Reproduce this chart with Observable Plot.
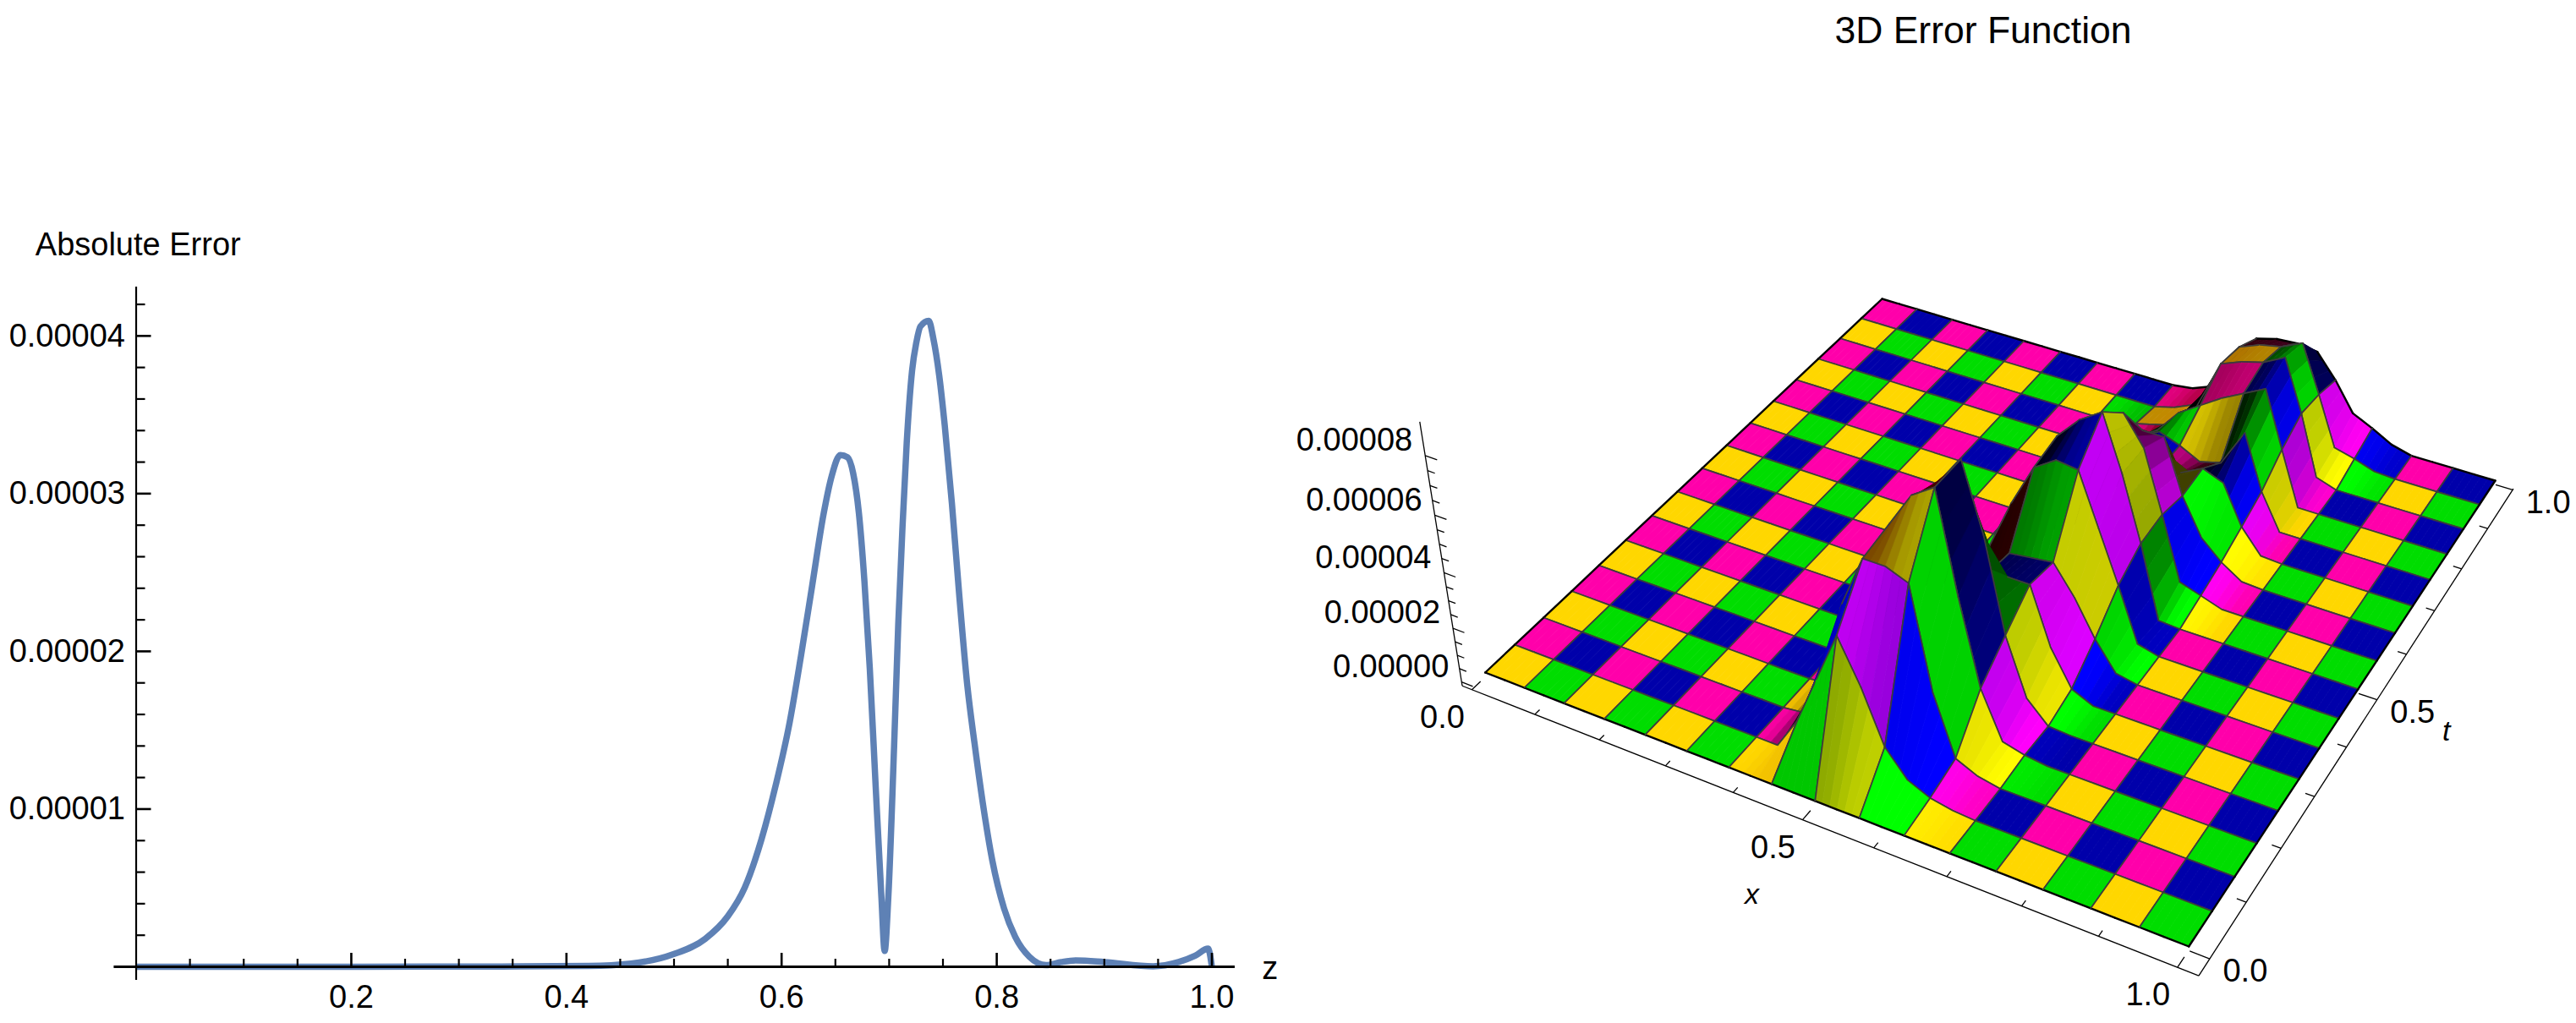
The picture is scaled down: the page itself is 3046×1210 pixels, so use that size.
<!DOCTYPE html>
<html>
<head>
<meta charset="utf-8">
<title>3D Error Function</title>
<script src="https://cdn.jsdelivr.net/npm/d3@7"></script>
<script src="https://cdn.jsdelivr.net/npm/@observablehq/plot@0.6"></script>
<style>
  html, body { margin: 0; padding: 0; background: #fff; overflow: hidden; }
  #page { position: relative; width: 3046px; height: 1210px; font-family: "Liberation Sans", Arial, sans-serif; }
  #title { position: absolute; left: 2345px; top: 11px; transform: translateX(-50%); font-size: 44.5px; white-space: nowrap; color: #000; }
  #left, #right { position: absolute; top: 0; }
  #left { left: 0; }
  #right { left: 1520px; }
</style>
</head>
<body>
<div id="page">
  <div id="left"></div>
  <div id="right"></div>
  <div id="title">3D Error Function</div>
</div>
<script>
// left chart, error in units of 1e-5
const zValues = [0,.2,.34,.421,.46,.4996,.529,.55,.5656,.5814,.5945,.6075,.618,.6285,.639,.6467,.6546,.6613,.6665,.6718,.677,.682,.6875,.6928,.6958,.6992,.7046,.7085,.7124,.7163,.7213,.7253,.729,.7368,.741,.7465,.7517,.7583,.7648,.7727,.7793,.787,.796,.8068,.8172,.8303,.846,.86,.8735,.9,.9454,.969,.9845,.9964,1];
const errorValues = [0,0,.002,.005,.02,.08,.177,.32,.5,.81,1.15,1.55,1.97,2.42,2.87,3.115,3.245,3.23,3.13,2.88,2.445,1.89,1.137,.44,.1,.44,1.4,2.18,2.79,3.32,3.78,3.96,4.06,4.096,3.986,3.75,3.43,2.94,2.386,1.78,1.42,1.04,.67,.37,.19,.064,.011,.03,.04,.03,.003,.03,.07,.115,0];
const xMajor = [.2,.4,.6,.8,1];
const xMinor = [.05,.1,.15,.25,.3,.35,.45,.5,.55,.65,.7,.75,.85,.9,.95];
const yMajor = [1,2,3,4];
const yMinor = [.2,.4,.6,.8,1.2,1.4,1.6,1.8,2.2,2.4,2.6,2.8,3.2,3.4,3.6,3.8,4.2];

// surface heights in units of 1e-5: rows are t steps (0..16), columns are half x steps starting at x index 6
const firstColumn = 12;
const surfaceRows = [
  [],
  [0,0,1.2,3,4.8,3.3,1.45,.55,.2,.05],
  [0,.1,2,4.6,6.4,6.4,6.1,2.6,.5,.15],
  [0,.1,2.5,5,6.6,7.8,8.3,4.9,1.95,.3,.1],
  [0,.1,2.8,4.6,5.5,7.2,8.3,6,2.8,.8,.05],
  [0,0,2,3,3.3,3.5,3.4,3.6,3.6,1.6,.35],
  [0,0,1.1,1.3,1.4,2.2,3.2,3.3,3.4,2.4,1.15,.15],
  [0,0,.3,1,2,3.8,5.3,5.8,5.7,3.9,2.1,.2],
  [0,0,0,0,.65,2.7,5.5,6.3,6.8,4.9,2.65,.05],
  [0,0,0,0,.1,1.1,3.3,5,5.9,4.9,2.75,.5,.25],
  [0,0,0,0,0,.2,1.1,3,4.4,4.4,2.5,1.2,.53,.05],
  [0,0,0,0,0,.1,1,1.8,2.1,2.2,2.6,2.3,.9,.05],
  [0,0,0,0,0,.1,1.96,2.35,2.07,1.7,1.9,3.25,1.3],
  [0,0,0,0,.1,.3,1.3,2.2,2.7,3.2,3.6,4,1.97],
  [0,0,0,0,.2,.4,.6,1.6,3.4,3.7,3.9,4.3,2.45,.25],
  [0,0,0,0,0,.2,.54,1.8,3.2,3.5,3.65,4,2.3,.5,.3,.05],
  [0,0,0,0,0,.1,.4,1.4,2.7,2.9,2.95,2.85,2,.95,.6,.2]
];
const cellColors = [[[255,215,0],[0,221,0]],[[255,0,170],[0,0,170]]];
const xTicks3d = [0,.1,.2,.3,.4,.5,.6,.7,.8,.9,1];
const tTicks3d = [0,.1,.2,.3,.4,.5,.6,.7,.8,.9,1];
const xLabels3d = [0,.5,1];
const tLabels3d = [0,.5,1];
const zMajor3d = [0,2,4,6,8];
const zMinor3d = [.5,1,1.5,2.5,3,3.5,4.5,5,5.5,6.5,7,7.5];

const font = '"Liberation Sans", Arial, sans-serif';

document.querySelector("#left").append(Plot.plot({
  width: 1520, height: 1210,
  marginLeft: 160.5, marginRight: 87.5, marginTop: 339, marginBottom: 67,
  style: {fontFamily: font, background: "transparent", overflow: "visible"},
  x: {domain: [0, 1], axis: null},
  y: {domain: [0, 4.31], axis: null},
  marks: [
    Plot.line(zValues.map((z, i) => ({z, e: errorValues[i]})), {x: "z", y: "e", stroke: "#5E81B5", strokeWidth: 7.5, curve: "monotone-x", strokeLinejoin: "miter", strokeMiterlimit: 2, strokeLinecap: "butt"}),
    Plot.ruleY([0], {x1: -.0205, x2: 1.0216, stroke: "#000", strokeWidth: 2.8}),
    Plot.ruleX([0], {y1: -.086, y2: 4.31, stroke: "#000", strokeWidth: 2.2}),
    Plot.axisX({ticks: xMinor, tickSize: -9, strokeWidth: 2.2, tickFormat: () => "", label: null}),
    Plot.axisX({ticks: xMajor, tickSize: -16, tickPadding: 38, strokeWidth: 2.6, fontSize: 38, tickFormat: d => d.toFixed(1), label: null}),
    Plot.axisY({ticks: yMinor, tickSize: -11, strokeWidth: 2.2, tickFormat: () => "", label: null}),
    Plot.axisY({ticks: yMajor, tickSize: -18, tickPadding: 31, strokeWidth: 2.6, fontSize: 38, tickFormat: d => (d * 1e-5).toFixed(5), label: null}),
    Plot.text(["Absolute Error"], {x: [-.0937], y: [4.574], fontSize: 38, textAnchor: "start"}),
    Plot.text(["z"], {x: [1.054], y: [-.01], fontSize: 38})
  ]
}));

// camera: plane corners on the page and a vanishing point for the height axis
const corners = {a: [1755.7, 795], b: [2587.7, 1119], c: [2225, 353], d: [2950, 568]};
const vanish = [2322, 4500];
const heightStrength = -.0673; // per 8e-5

const dx1 = corners.b[0] - corners.d[0], dy1 = corners.b[1] - corners.d[1];
const dx2 = corners.c[0] - corners.d[0], dy2 = corners.c[1] - corners.d[1];
const sx = corners.a[0] - corners.b[0] + corners.d[0] - corners.c[0];
const sy = corners.a[1] - corners.b[1] + corners.d[1] - corners.c[1];
const det = dx1 * dy2 - dy1 * dx2;
const g = (sx * dy2 - sy * dx2) / det, h = (dx1 * sy - dy1 * sx) / det;
const ha = corners.b[0] - corners.a[0] + g * corners.b[0], hb = corners.c[0] - corners.a[0] + h * corners.c[0];
const hd = corners.b[1] - corners.a[1] + g * corners.b[1], he = corners.c[1] - corners.a[1] + h * corners.c[1];

function project(u, v, z) {
  const s = heightStrength * z / 8;
  const w = g * u + h * v + 1 + s;
  return [(ha * u + hb * v + corners.a[0] + s * vanish[0]) / w, (hd * u + he * v + corners.a[1] + s * vanish[1]) / w];
}

const height = (k, j) => surfaceRows[j][k - firstColumn] || 0;

// light response per colour channel, flat ground gives exactly 1
const clamp = x => Math.max(0, Math.min(1, x));
function shade(base, n, steepX, j) {
  const cap = .95 + .22 * clamp((n[2] - .4) / .3);
  const dark = (1 - .7 * clamp((steepX - 2.9) / 1.1) * clamp((.25 + n[1]) / .15)) * (1 - .7 * clamp((n[1] - .12) / .15));
  // the first rows facing left and towards us stay bright
  const front = j < 2 ? clamp(-n[0] / .2) * clamp((-n[1] - .1) / .2) : 0;
  const r = Math.max(front * .95, .43 * n[0] - .12 * n[1] + n[2]) * dark;
  const gr = Math.max(front * .9, Math.min(cap, .77 * n[0] - .26 * n[1] + n[2])) * dark;
  const bl = Math.max(front * 1.2, 1.03 * n[0] - .63 * n[1] + n[2]) * dark;
  return [Math.min(255, base[0] * Math.max(0, r)), Math.min(255, base[1] * Math.max(0, gr)), Math.min(255, base[2] * Math.max(0, bl))];
}

const surfacePoints = [];
let groupId = 0;
function addPath(points, fillColor, strokeColor, sw) {
  groupId++;
  for (const [u, v, z] of points) {
    const [px, py] = project(u, v, z);
    surfacePoints.push({id: groupId, px, py, fillColor, strokeColor, sw});
  }
}
const zWorld = .36 / 8; // box height per 1e-5
function halfCellColor(k, j) {
  const z00 = height(k, j), z10 = height(k + 1, j), z01 = height(k, j + 1), z11 = height(k + 1, j + 1);
  const dzdx = ((z10 - z00) + (z11 - z01)) / 2 * zWorld / (1 / 32);
  const dzdt = ((z01 - z00) + (z11 - z10)) / 2 * zWorld / (1 / 16);
  const len = Math.hypot(dzdx, dzdt, 1);
  return shade(cellColors[j % 2][Math.floor(k / 2) % 2], [-dzdx / len, -dzdt / len, 1 / len], -dzdx, j);
}
const strips = 3; // colour steps across each half cell
const mesh = "#3c3c3c";
for (let j = 15; j >= 0; j--) {
  for (let k = 0; k < 32; k++) {
    const u0 = k / 32, u1 = (k + 1) / 32, v0 = j / 16, v1 = (j + 1) / 16;
    const z00 = height(k, j), z10 = height(k + 1, j), z01 = height(k, j + 1), z11 = height(k + 1, j + 1);
    const cellStart = k - k % 2;
    const c0 = halfCellColor(cellStart, j), c1 = halfCellColor(cellStart + 1, j);
    for (let s = 0; s < strips; s++) {
      const a = s / strips, b = (s + 1) / strips;
      const pos = ((k % 2) + (a + b) / 2) / 2; // place inside the mesh cell
      const mix = clamp((pos - .2) / .6);
      const color = d3.rgb(...c0.map((c, i) => c + (c1[i] - c) * mix)).formatHex();
      const ua = u0 + (u1 - u0) * a, ub = u0 + (u1 - u0) * b;
      const zLowA = z00 + (z10 - z00) * a, zLowB = z00 + (z10 - z00) * b;
      const zHighA = z01 + (z11 - z01) * a, zHighB = z01 + (z11 - z01) * b;
      addPath([[ua, v0, zLowA], [ub, v0, zLowB], [ub, v1, zHighB], [ua, v1, zHighA], [ua, v0, zLowA]], color, color, .8);
    }
    addPath([[u0, v1, z01], [u1, v1, z11]], "none", j === 15 ? "#000" : mesh, j === 15 ? 2.4 : 1.7);
    addPath([[u0, v0, z00], [u1, v0, z10]], "none", j === 0 ? "#000" : mesh, j === 0 ? 2.4 : 1.7);
    if (k % 2 === 0) addPath([[u0, v0, z00], [u0, v1, z01]], "none", k === 0 ? "#000" : mesh, k === 0 ? 2.4 : 1.7);
    if (k % 2 === 1) addPath([[u1, v0, z10], [u1, v1, z11]], "none", k === 31 ? "#000" : mesh, k === 31 ? 2.4 : 1.7);
  }
}

// box edges and ticks
const uLow = -.0155, uHigh = 1.0265, vLow = -.029, vHigh = 1.003;
const framePoints = [];
let frameId = 0;
function addFrame(a, b) {
  frameId++;
  for (const [u, v, z] of [a, b]) {
    const [px, py] = project(u, v, z);
    framePoints.push({id: frameId, px, py});
  }
}
addFrame([uLow, vLow, -.15], [uHigh, vLow, -.15]);
addFrame([uHigh, vLow, -.15], [uHigh, vHigh, -.15]);
addFrame([uLow, vLow, -.15], [uLow, vLow, 9.1]);
for (const x of xTicks3d) {
  const major = xLabels3d.includes(x);
  addFrame([x, vLow, -.15], [x, vLow + (major ? .018 : .01), -.15]);
}
for (const t of tTicks3d) {
  const major = tLabels3d.includes(t);
  addFrame([uHigh, t, -.15], [uHigh - (major ? .025 : .012), t, -.15]);
}
for (const z of zMajor3d) addFrame([uLow, vLow, z], [uLow + .018, vLow, z]);
for (const z of zMinor3d) addFrame([uLow, vLow, z], [uLow + .011, vLow, z]);

const xLabelPos = xLabels3d.map(x => ({p: project(x, vLow, -.15), s: x.toFixed(1)}));
const tLabelPos = tLabels3d.map(t => ({p: project(uHigh, t, -.15), s: t.toFixed(1)}));
const zLabelPos = zMajor3d.map(z => ({p: project(uLow, vLow, z), s: (z * 1e-5).toFixed(5)}));
const xTitlePos = project(.5, vLow, -.15);
const tTitlePos = project(uHigh, .5, -.15);

document.querySelector("#right").append(Plot.plot({
  width: 1526, height: 1210,
  marginLeft: 0, marginRight: 0, marginTop: 0, marginBottom: 0,
  style: {fontFamily: font, background: "transparent", overflow: "visible"},
  x: {domain: [1520, 3046], range: [0, 1526], axis: null},
  y: {domain: [0, 1210], range: [0, 1210], axis: null},
  marks: [
    Plot.line(framePoints, {x: "px", y: "py", z: "id", stroke: "#000", strokeWidth: 1.3, strokeLinecap: "butt"}),
    Plot.line(surfacePoints, {
      x: "px", y: "py", z: "id",
      fill: {value: "fillColor", scale: null},
      stroke: {value: "strokeColor", scale: null},
      strokeWidth: "sw"
    }),
    Plot.text(zLabelPos, {x: d => d.p[0], y: d => d.p[1], text: "s", dx: -15, dy: -18, textAnchor: "end", fontSize: 38}),
    Plot.text(xLabelPos, {x: d => d.p[0], y: d => d.p[1], text: "s", dx: -35, dy: 33, fontSize: 38}),
    Plot.text(tLabelPos, {x: d => d.p[0], y: d => d.p[1], text: "s", dx: 42, dy: 15, fontSize: 38}),
    Plot.text(["x"], {x: [xTitlePos[0]], y: [xTitlePos[1]], dx: -60, dy: 88, fontSize: 34, fontStyle: "italic"}),
    Plot.text(["t"], {x: [tTitlePos[0]], y: [tTitlePos[1]], dx: 82, dy: 37, fontSize: 34, fontStyle: "italic"})
  ]
}));
</script>
</body>
</html>
